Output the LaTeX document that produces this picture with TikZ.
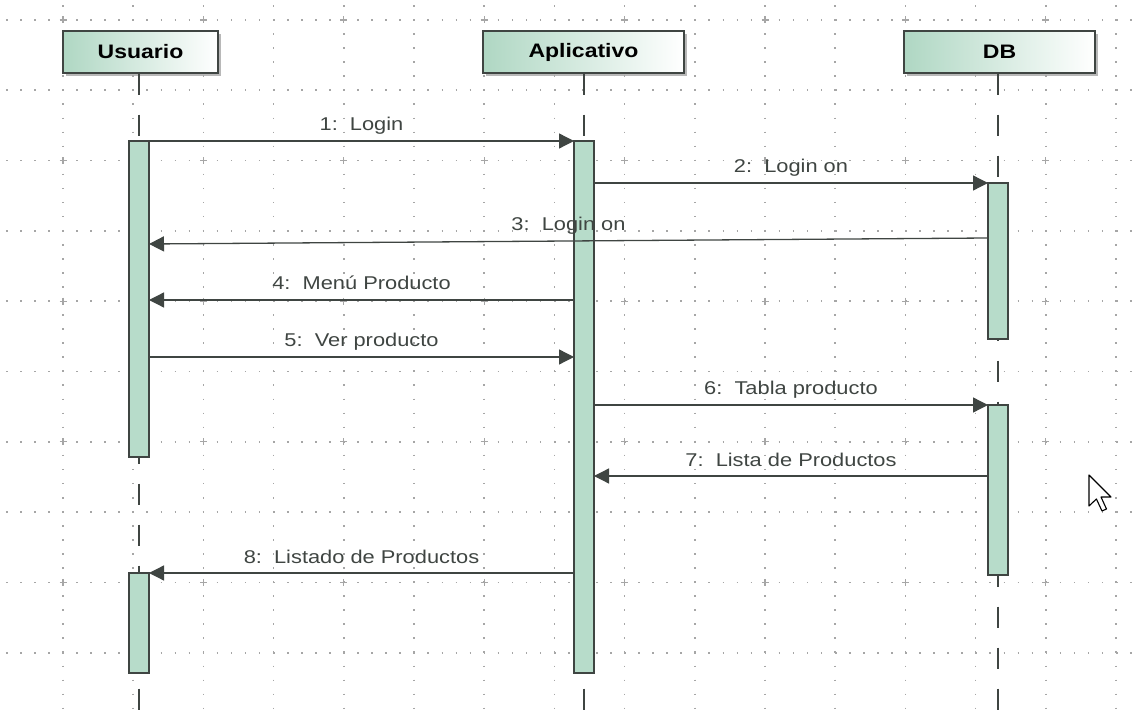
\documentclass[tikz,border=0pt]{standalone}
\usepackage{fontspec}
\setmainfont[FakeStretch=1.18]{Liberation Sans}
\usetikzlibrary{arrows.meta,shadows}

\definecolor{boxgreen}{HTML}{AFD7C3}
\definecolor{bargreen}{HTML}{B7DCCA}
\definecolor{linegray}{HTML}{3F4542}
\definecolor{dotgray}{HTML}{A6A6A6}

\begin{document}
\begin{tikzpicture}[x=1pt,y=-1pt,font=\fontsize{18.5}{21}\selectfont,
	actor/.style={draw=linegray,line width=1.4pt,left color=boxgreen,right color=white,
		minimum height=42pt,inner sep=0pt,font=\bfseries\fontsize{19.5}{22}\selectfont,
		drop shadow={shadow xshift=3pt,shadow yshift=-3pt,fill=black!35,opacity=0.8}},
	bar/.style={draw=linegray,line width=1.1pt,fill=bargreen,minimum width=20pt,inner sep=0pt},
	life/.style={linegray,line width=1.3pt,dash pattern=on 21pt off 20pt},
	msg/.style={linegray,line width=1.3pt,-{Triangle[length=15pt,width=15pt]}},
	lbl/.style={midway,anchor=base,yshift=10pt,inner sep=0pt},
	grid dots/.style={dotgray,line width=1.6pt,dash pattern=on 1.6pt off 12.45pt}]

	\useasboundingbox (0,0) rectangle (1144,719);

	% background grid
	\foreach \k in {0,...,9}
		\draw[grid dots] (-8.1,{20+70.3*\k}) -- (1150,{20+70.3*\k});
	\foreach \k in {0,...,15}
		\draw[grid dots] ({63+70.2*\k},-8.9) -- ({63+70.2*\k},725);
	\foreach \i in {0,2,...,14}
		\foreach \j in {0,2,...,8}
			\draw[dotgray,line width=1.2pt] ({63+70.2*\i-3.5},{20+70.3*\j}) -- ++(7,0)
				({63+70.2*\i},{20+70.3*\j-3.5}) -- ++(0,7);

	% lifeline ends
	\coordinate (Uend) at (139,725);
	\coordinate (Aend) at (584,725);
	\coordinate (Dend) at (998,725);

	% participants
	\node[actor,minimum width=155pt] (U) at (140.5,52) {Usuario};
	\node[actor,minimum width=201pt] (A) at (583.5,52) {Aplicativo};
	\node[actor,minimum width=191pt] (D) at (999.5,52) {DB};

	% lifelines
	\draw[life] (U.south -| Uend) -- (Uend);
	\draw[life] (A.south -| Aend) -- (Aend);
	\draw[life] (D.south -| Dend) -- (Dend);

	% activation bars
	\node[bar,minimum height=316pt] (U1) at (139,299) {};
	\node[bar,minimum height=100pt] (U2) at (139,623) {};
	\node[bar,minimum height=532pt] (A1) at (584,407) {};
	\node[bar,minimum height=156pt] (D1) at (998,261) {};
	\node[bar,minimum height=170pt] (D2) at (998,490) {};

	% message ends
	\coordinate (M1a) at (149,141);  \coordinate (M1b) at (574,141);
	\coordinate (M2a) at (594,183);  \coordinate (M2b) at (988,183);
	\coordinate (M3a) at (988,238);  \coordinate (M3b) at (149,244);
	\coordinate (M4a) at (574,300);  \coordinate (M4b) at (149,300);
	\coordinate (M5a) at (149,357);  \coordinate (M5b) at (574,357);
	\coordinate (M6a) at (594,405);  \coordinate (M6b) at (988,405);
	\coordinate (M7a) at (988,476);  \coordinate (M7b) at (594,476);
	\coordinate (M8a) at (574,573);  \coordinate (M8b) at (149,573);

	% messages
	\draw[msg] (M1a) -- node[lbl] {1:\ \ Login} (M1b);
	\draw[msg] (M2a) -- node[lbl] {2:\ \ Login on} (M2b);
	\draw[msg] (M3a) -- node[lbl] {3:\ \ Login on} (M3b);
	\draw[msg] (M4a) -- node[lbl] {4:\ \ Menú Producto} (M4b);
	\draw[msg] (M5a) -- node[lbl] {5:\ \ Ver producto} (M5b);
	\draw[msg] (M6a) -- node[lbl] {6:\ \ Tabla producto} (M6b);
	\draw[msg] (M7a) -- node[lbl] {7:\ \ Lista de Productos} (M7b);
	\draw[msg] (M8a) -- node[lbl] {8:\ \ Listado de Productos} (M8b);

	% mouse pointer
	\draw[black,line width=1.1pt,fill=white,line join=round]
		(1089,475) -- ++(0,31) -- ++(7.4,-7) -- ++(5.6,12) -- ++(4.5,-2)
		-- ++(-5.5,-12) -- ++(10,0) -- cycle;
\end{tikzpicture}
\end{document}
